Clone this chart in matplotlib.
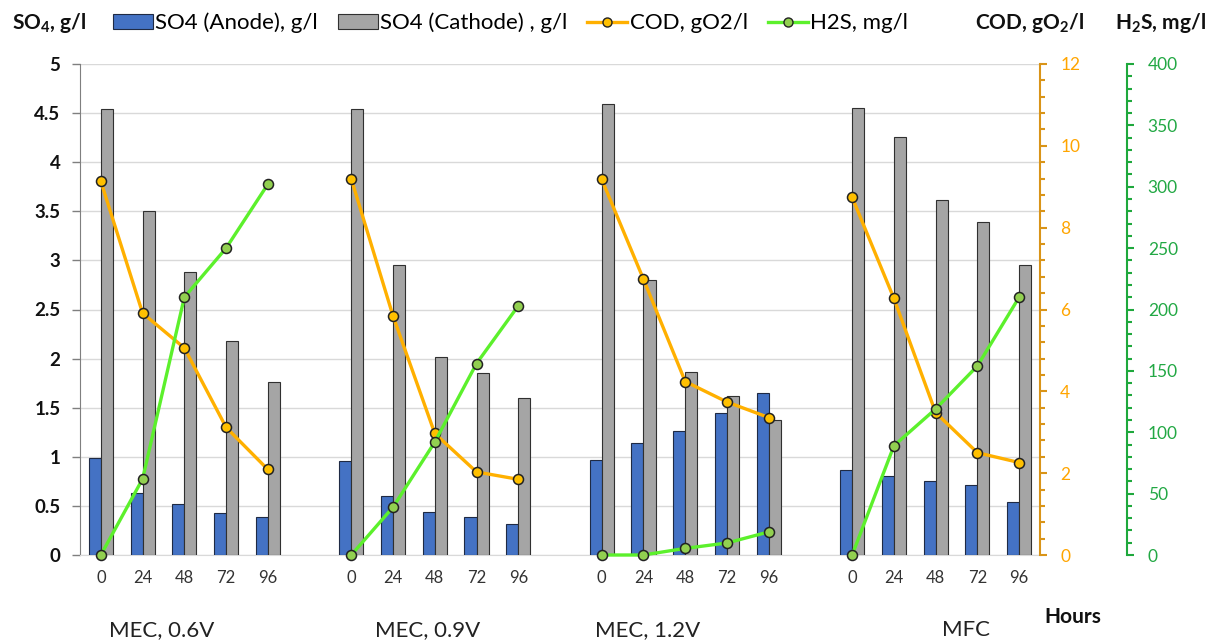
import matplotlib
matplotlib.use("Agg")
import matplotlib.pyplot as plt
from matplotlib.patches import Patch
from matplotlib.lines import Line2D
from matplotlib.ticker import MultipleLocator, FuncFormatter
import numpy as np

FONT = "Lato"
plt.rcParams['font.family'] = [FONT, 'DejaVu Sans']
plt.rcParams['mathtext.fontset'] = 'custom'
plt.rcParams['mathtext.rm'] = FONT
plt.rcParams['mathtext.bf'] = FONT + ':bold'

# ---------------- data ----------------
hours = ["0", "24", "48", "72", "96"]
groups = ["MEC, 0.6V", "MEC, 0.9V", "MEC, 1.2V", "MFC"]

so4_anode = [0.985, 0.63, 0.52, 0.43, 0.39,
             0.96, 0.60, 0.44, 0.39, 0.32,
             0.97, 1.14, 1.26, 1.45, 1.65,
             0.87, 0.80, 0.755, 0.71, 0.535]
so4_cathode = [4.54, 3.50, 2.885, 2.18, 1.76,
               4.54, 2.95, 2.015, 1.85, 1.595,
               4.59, 2.80, 1.86, 1.62, 1.375,
               4.555, 4.255, 3.62, 3.39, 2.95]
cod = [9.13, 5.91, 5.06, 3.12, 2.09,
       9.19, 5.84, 2.97, 2.03, 1.85,
       9.18, 6.74, 4.24, 3.74, 3.36,
       8.74, 6.27, 3.48, 2.50, 2.26]
h2s = [0, 62, 210, 250, 302,
       0, 39, 92, 156, 203,
       0, 0, 5.4, 9.8, 18.8,
       0, 89, 119, 154, 210]

# colors
BLUE = "#4472C4"
GRAY = "#A5A5A5"
COD_C = "#FFB000"
COD_M = "#FFC000"
H2S_C = "#5CF02C"
H2S_M = "#92D050"
ORANGE_AX = "#D99418"
ORANGE_TX = "#FFA500"
GREEN_AX = "#1EA83C"
GREEN_TX = "#22A844"
GRID = "#D9D9D9"

# ---------------- positions ----------------
n_per = len(hours)
xpos = []
for g in range(len(groups)):
    for i in range(n_per):
        xpos.append(g * (n_per + 1) + i)
xpos = np.array(xpos, dtype=float)

fig = plt.figure(figsize=(12.2, 6.4), dpi=100)
W, H = 1220, 640
ax = fig.add_axes([80 / W, 85 / H, 960 / W, 491 / H])
bw = 0.29
ax.bar(xpos - bw / 2, so4_anode, width=bw, color=BLUE, edgecolor="#1F2A44",
       linewidth=0.8, zorder=3)
ax.bar(xpos + bw / 2, so4_cathode, width=bw, color=GRAY, edgecolor="#303030",
       linewidth=0.8, zorder=3)
ax.set_xlim(-0.5, xpos[-1] + 0.5)
ax.set_ylim(0, 5)
ax.yaxis.set_major_locator(MultipleLocator(0.5))
ax.yaxis.set_major_formatter(FuncFormatter(lambda v, p: f"{v:g}"))
ax.grid(axis="y", color=GRID, linewidth=1.0, zorder=0)
ax.set_axisbelow(True)
ax.set_xticks(xpos)
ax.set_xticklabels(hours * len(groups))
ax.tick_params(axis="x", length=0, pad=11, labelsize=12, labelcolor="#333333")
ax.tick_params(axis="y", direction="out", length=6, width=1, color="#7F7F7F",
               labelsize=13.5, pad=8, labelcolor="#111111")
for lab in ax.get_yticklabels():
    lab.set_fontweight("bold")
for s in ["top", "right"]:
    ax.spines[s].set_visible(False)
ax.spines["left"].set_color("#7F7F7F")
ax.spines["bottom"].set_color(GRID)

# COD axis
ax2 = ax.twinx()
ax2.set_ylim(0, 12)
ax2.yaxis.set_major_locator(MultipleLocator(2))
ax2.yaxis.set_minor_locator(MultipleLocator(0.4))
for s in ["top", "left", "bottom"]:
    ax2.spines[s].set_visible(False)
ax2.spines["right"].set_color(ORANGE_AX)
ax2.spines["right"].set_linewidth(1.5)
ax2.tick_params(axis="y", which="major", direction="out", length=5, width=1.5,
                color=ORANGE_AX, labelcolor=ORANGE_TX, labelsize=12.5, pad=9.5)
ax2.tick_params(axis="y", which="minor", direction="out", length=3.5, width=1.5,
                color=ORANGE_AX)

# H2S axis
ax3 = ax.twinx()
ax3.spines["right"].set_position(("axes", 1.0906))
ax3.set_ylim(0, 400)
ax3.yaxis.set_major_locator(MultipleLocator(50))
ax3.yaxis.set_minor_locator(MultipleLocator(10))
for s in ["top", "left", "bottom"]:
    ax3.spines[s].set_visible(False)
ax3.spines["right"].set_color(GREEN_AX)
ax3.spines["right"].set_linewidth(1.5)
ax3.tick_params(axis="y", which="major", direction="out", length=5, width=1.5,
                color=GREEN_AX, labelcolor=GREEN_TX, labelsize=12.5, pad=10)
ax3.tick_params(axis="y", which="minor", direction="out", length=3.5, width=1.5,
                color=GREEN_AX)

for g in range(len(groups)):
    sl = slice(g * n_per, (g + 1) * n_per)
    ax2.plot(xpos[sl], cod[sl], color=COD_C, linewidth=2.4, marker="o",
             markersize=7.2, markerfacecolor=COD_M, markeredgecolor="#222222",
             markeredgewidth=1.1, zorder=4, clip_on=False)
    ax3.plot(xpos[sl], h2s[sl], color=H2S_C, linewidth=2.4, marker="o",
             markersize=7.2, markerfacecolor=H2S_M, markeredgecolor="#222222",
             markeredgewidth=1.1, zorder=5, clip_on=False)

# group labels
label_x = [162, 428, 648, 966]
for gx, gname in zip(label_x, groups):
    fig.text(gx / W, 1 - 630 / H, gname, ha="center", va="center",
             fontsize=16, color="#222222")
fig.text(1073 / W, 1 - 617 / H, "Hours", ha="center", va="center",
         fontsize=15, fontweight="bold", color="#111111")

# axis titles
fig.text(12 / W, 1 - 23 / H, r"SO$_\mathbf{4}$, g/l", ha="left", va="center",
         fontsize=15, fontweight="bold", color="#111111")
fig.text(975 / W, 1 - 23 / H, r"COD, gO$_\mathbf{2}$/l", ha="left", va="center",
         fontsize=15, fontweight="bold", color="#111111")
fig.text(1115 / W, 1 - 23 / H, r"H$_\mathbf{2}$S, mg/l", ha="left", va="center",
         fontsize=15, fontweight="bold", color="#111111")

# legend
handles = [
    Patch(facecolor=BLUE, edgecolor="#1F2A44", linewidth=0.8),
    Patch(facecolor=GRAY, edgecolor="#303030", linewidth=0.8),
    Line2D([], [], color=COD_C, linewidth=2.4, marker="o", markersize=6.5,
           markerfacecolor=COD_M, markeredgecolor="#222222"),
    Line2D([], [], color=H2S_C, linewidth=2.4, marker="o", markersize=6.5,
           markerfacecolor=H2S_M, markeredgecolor="#222222"),
]
labels = ["SO4 (Anode), g/l", "SO4 (Cathode) , g/l", "COD, gO2/l", "H2S, mg/l"]
fig.legend(handles, labels, loc="center left",
           bbox_to_anchor=(113 / W, 1 - 23 / H), ncol=4, frameon=False,
           fontsize=16, handlelength=1.8, handleheight=0.6, handletextpad=0.1,
           columnspacing=0.9, borderaxespad=0, borderpad=0)

fig.savefig("out.png", dpi=100)
